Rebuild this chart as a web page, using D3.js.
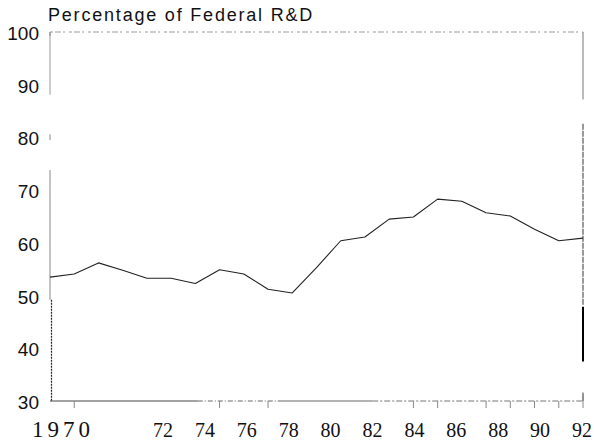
<!DOCTYPE html>
<html>
<head>
<meta charset="utf-8">
<script src="https://cdn.jsdelivr.net/npm/d3@7"></script>
<style>
  html, body { margin: 0; padding: 0; background: #fff; }
  svg { display: block; }
</style>
</head>
<body>
<svg id="chart" width="594" height="441"></svg>
<script>
// Data
const years = [1970, 1971, 1972, 1973, 1974, 1975, 1976, 1977, 1978, 1979, 1980, 1981,
               1982, 1983, 1984, 1985, 1986, 1987, 1988, 1989, 1990, 1991, 1992];
const percent = [53.5, 54.1, 56.2, 54.8, 53.3, 53.3, 52.3, 54.9, 54.1, 51.2, 50.5, 55.3,
                 60.4, 61.1, 64.5, 64.9, 68.3, 67.9, 65.7, 65.1, 62.6, 60.4, 60.9];

const yTicks = [30, 40, 50, 60, 70, 80, 90, 100];
const xLabels = [72, 74, 76, 78, 80, 82, 84, 86, 88, 90, 92];
const firstLabel = "1970";
// tick marks that survive on the scan
const xTickYears = [1971, 1977, 1979, 1985, 1986, 1988, 1989, 1990, 1991, 1992];
const title = "Percentage of Federal R&D";

const svg = d3.select("#chart");
const plot = { left: 50, right: 583, top: 32, bottom: 401 };

const x = d3.scaleLinear().domain([1970, 1992]).range([plot.left, plot.right]);
const y = d3.scaleLinear().domain([30, 100]).range([plot.bottom, plot.top]);
// the printed year labels do not sit on the data ticks in the original
const xLab = d3.scaleLinear().domain([72, 92]).range([163, 582]);

// frame pieces (the scan is broken up)
const frame = svg.append("g").attr("fill", "none");

// top edge
frame.append("line")
  .attr("x1", x(1970)).attr("x2", x(1992))
  .attr("y1", y(100)).attr("y2", y(100))
  .attr("stroke", "#999").attr("stroke-width", 1)
  .attr("stroke-dasharray", "3,2,6,2,2,4");
frame.append("line")
  .attr("x1", x(1970)).attr("x2", x(1970))
  .attr("y1", y(100)).attr("y2", y(100) + 4)
  .attr("stroke", "#777");

// left edge
[[100, 88.1, 1, "#999"], [80.6, 79.5, 1, "#888"], [73.8, 49.2, 1, "#888"]]
  .forEach(s => {
    frame.append("line")
      .attr("x1", x(1970)).attr("x2", x(1970))
      .attr("y1", y(s[0])).attr("y2", y(s[1]))
      .attr("stroke", s[3]).attr("stroke-width", s[2]);
  });
frame.append("line")
  .attr("x1", x(1970) + 1.5).attr("x2", x(1970) + 1.5)
  .attr("y1", y(49.2)).attr("y2", y(30))
  .attr("stroke", "#222").attr("stroke-width", 1.2)
  .attr("stroke-dasharray", "2,1");

// right edge
frame.append("line")
  .attr("x1", x(1992)).attr("x2", x(1992))
  .attr("y1", y(100)).attr("y2", y(87.2))
  .attr("stroke", "#777").attr("stroke-width", 1);
frame.append("line")
  .attr("x1", x(1992)).attr("x2", x(1992))
  .attr("y1", y(82.6)).attr("y2", y(48.2))
  .attr("stroke", "#555").attr("stroke-width", 1.2)
  .attr("stroke-dasharray", "6,1");
frame.append("line")
  .attr("x1", x(1992)).attr("x2", x(1992))
  .attr("y1", y(47.9)).attr("y2", y(37.5))
  .attr("stroke", "#000").attr("stroke-width", 2);
frame.append("line")
  .attr("x1", x(1992)).attr("x2", x(1992))
  .attr("y1", y(31.6)).attr("y2", y(30))
  .attr("stroke", "#333").attr("stroke-width", 1);

// bottom edge
[[1970, 1976.1, "#444", null], [1976.1, 1979.4, "#666", "5,2,1,2"],
 [1979.4, 1983.3, "#666", null], [1983.3, 1992, "#777", "6,2,2,2"]]
  .forEach(s => {
    frame.append("line")
      .attr("x1", x(s[0])).attr("x2", x(s[1]))
      .attr("y1", y(30)).attr("y2", y(30))
      .attr("stroke", s[2]).attr("stroke-width", 1)
      .attr("stroke-dasharray", s[3]);
  });

// x ticks
frame.selectAll(".xtick")
  .data(xTickYears)
  .join("line")
  .attr("class", "xtick")
  .attr("x1", d => x(d)).attr("x2", d => x(d))
  .attr("y1", d => d === 1992 ? y(30) - 6 : y(30))
  .attr("y2", y(30) + 7)
  .attr("stroke", "#888").attr("stroke-width", 1);

// y labels
svg.append("g")
  .selectAll("text")
  .data(yTicks)
  .join("text")
  .attr("x", 39)
  .attr("y", d => y(d))
  .attr("dy", "0.42em")
  .attr("text-anchor", "end")
  .attr("font-family", "'Liberation Sans', Arial, sans-serif")
  .attr("font-size", 19)
  .attr("fill", "#111")
  .text(d => d);

// x labels
const xl = svg.append("g")
  .attr("font-family", "'Liberation Serif', 'Times New Roman', serif")
  .attr("font-size", 20)
  .attr("fill", "#111");
xl.selectAll("text.yr")
  .data(xLabels)
  .join("text")
  .attr("class", "yr")
  .attr("x", d => xLab(d))
  .attr("y", 437)
  .attr("text-anchor", "middle")
  .text(d => d);
xl.append("text")
  .attr("x", plot.left - 18)
  .attr("y", 437)
  .style("font-size", "23px")
  .style("letter-spacing", "4px")
  .text(firstLabel);

// title
svg.append("text")
  .attr("x", 48)
  .attr("y", 21)
  .attr("font-family", "'Liberation Sans', Arial, sans-serif")
  .style("font-size", "18px")
  .style("letter-spacing", "1.8px")
  .attr("fill", "#111")
  .text(title);

// the series
const line = d3.line()
  .x((d, i) => x(years[i]))
  .y(d => y(d));

svg.append("path")
  .datum(percent)
  .attr("fill", "none")
  .attr("stroke", "#222")
  .attr("stroke-width", 1.1)
  .attr("stroke-linejoin", "round")
  .attr("d", line);
</script>
</body>
</html>
